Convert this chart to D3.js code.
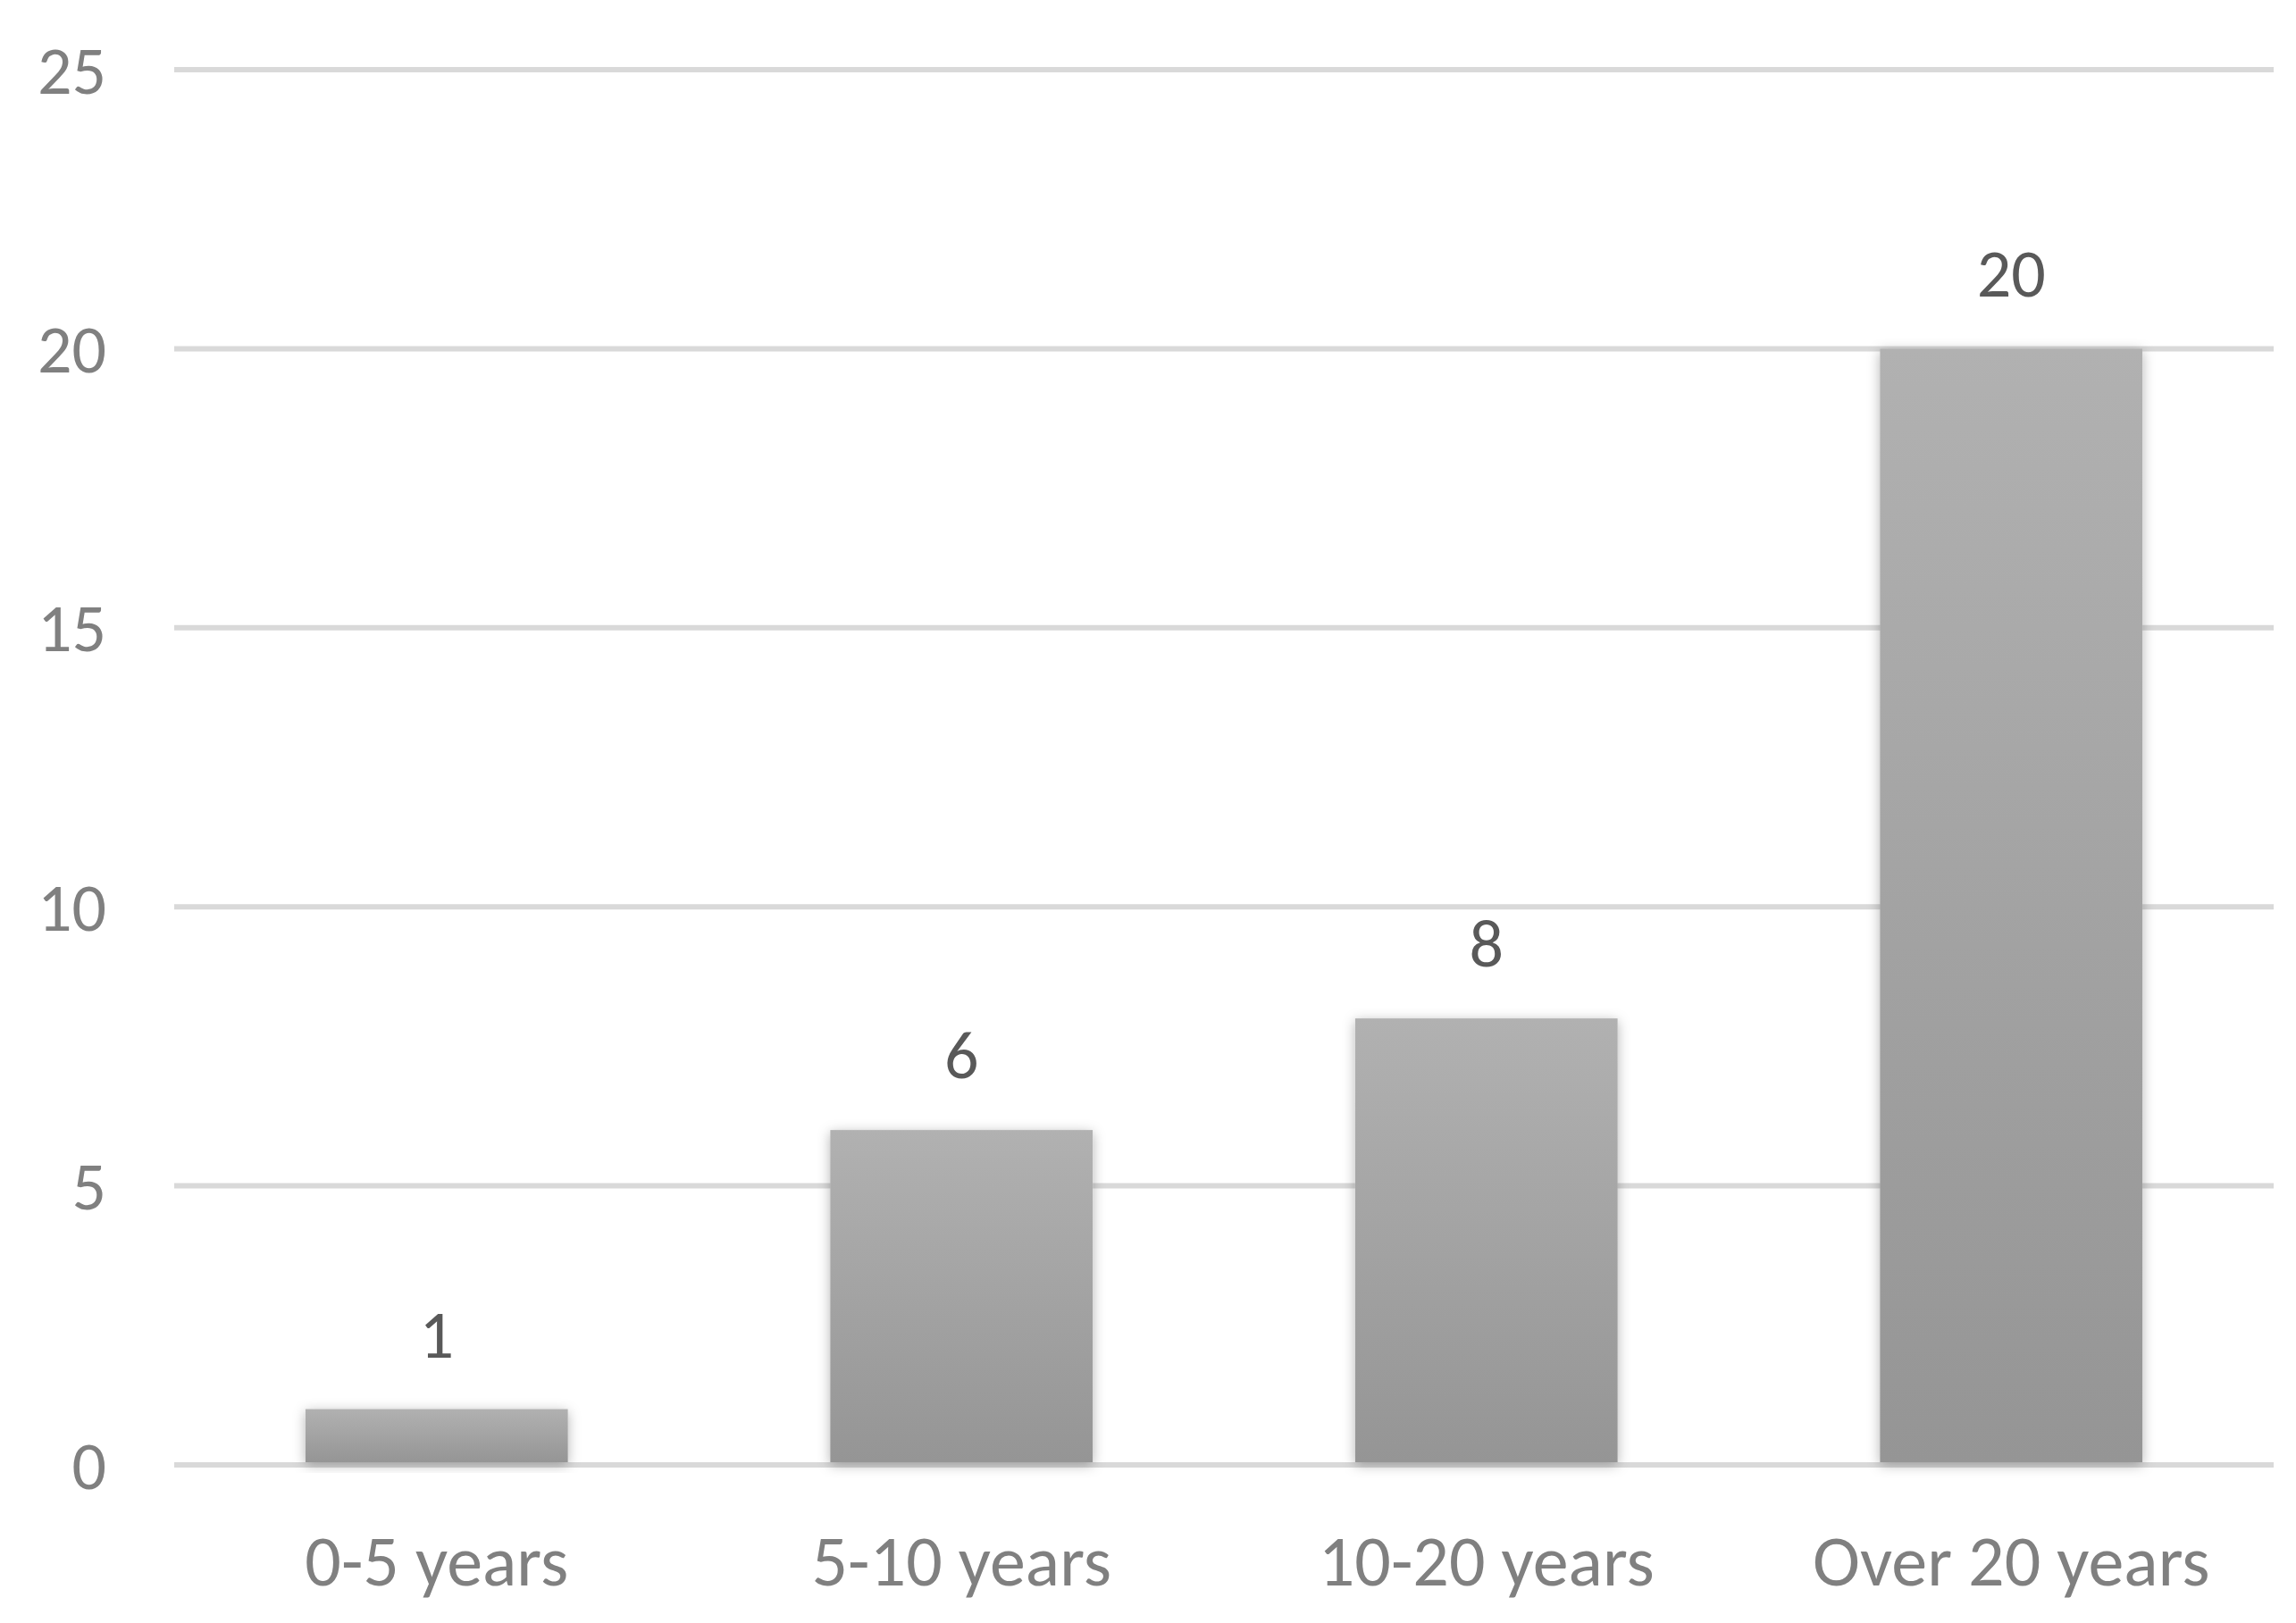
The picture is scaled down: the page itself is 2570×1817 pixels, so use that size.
<!DOCTYPE html>
<html><head><meta charset="utf-8">
<script src="https://cdn.jsdelivr.net/npm/d3@7"></script>
<style>body{margin:0;background:#fff}</style>
</head><body>
<svg id="c" width="2570" height="1817"></svg>
<script>
const categories = ["0-5 years","5-10 years","10-20 years","Over 20 years"];
const values = [1,6,8,20];
const yTicks = [0,5,10,15,20,25];

const svg = d3.select("#c");
const font = "Carlito, Calibri, Lato, 'Open Sans', sans-serif";
const x = d3.scaleBand().domain(categories).range([195,2545]).paddingInner(0.5).paddingOuter(0.25);
const y = d3.scaleLinear().domain([0,25]).range([1640,78]);

const defs = svg.append("defs");
const g = defs.append("linearGradient").attr("id","bg").attr("x1",0).attr("y1",0).attr("x2",0).attr("y2",1);
g.append("stop").attr("offset","0%").attr("stop-color","#b1b1b1");
g.append("stop").attr("offset","100%").attr("stop-color","#959595");
const f = defs.append("filter").attr("id","sh").attr("x","-20%").attr("y","-20%").attr("width","140%").attr("height","140%");
f.append("feDropShadow").attr("dx",0).attr("dy",3).attr("stdDeviation",7).attr("flood-color","#000").attr("flood-opacity",0.3);

svg.append("g").selectAll("line").data(yTicks).join("line")
  .attr("x1",195).attr("x2",2545).attr("y1",d=>y(d)).attr("y2",d=>y(d))
  .attr("stroke","#d9d9d9").attr("stroke-width",6);

svg.append("g").selectAll("text").data(yTicks).join("text")
  .attr("x",119).attr("y",d=>y(d)).attr("dy","0.35em").attr("text-anchor","end")
  .attr("font-family",font).attr("font-size",76).attr("fill","#808080").text(d=>d);

svg.append("g").selectAll("rect").data(values).join("rect")
  .attr("x",(d,i)=>x(categories[i])).attr("width",x.bandwidth())
  .attr("y",d=>y(d)).attr("height",d=>y(0)-y(d)-3)
  .attr("fill","url(#bg)").attr("filter","url(#sh)");

svg.append("g").selectAll("text").data(values).join("text")
  .attr("x",(d,i)=>x(categories[i])+x.bandwidth()/2).attr("y",d=>y(d)-58)
  .attr("text-anchor","middle").attr("font-family",font).attr("font-size",76)
  .attr("fill","#595959").text(d=>d);

svg.append("g").selectAll("text").data(categories).join("text")
  .attr("x",d=>x(d)+x.bandwidth()/2).attr("y",1775)
  .attr("text-anchor","middle").attr("font-family",font).attr("font-size",80)
  .attr("fill","#808080").text(d=>d);
</script>
</body></html>
